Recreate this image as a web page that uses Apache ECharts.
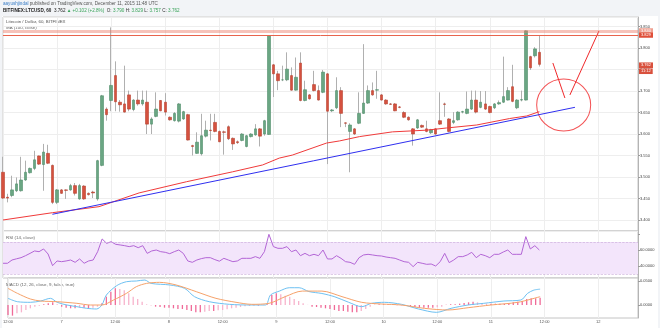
<!DOCTYPE html>
<html>
<head>
<meta charset="utf-8">
<script src="https://cdn.jsdelivr.net/npm/echarts@6/dist/echarts.min.js"></script>
<style>
html,body{margin:0;padding:0;background:#f2f4f7;}
#chart{width:660px;height:328px;}
</style>
</head>
<body>
<div id="chart"></div>
<script>
// LTC/USD hourly bars, Bitfinex. Hours are counted from Dec 6 00:00.
const firstHour = 12;          // first bar opens Dec 6, 12:00
const firstDay = 6;

const opens = [
3.511,3.453,3.457,3.468,3.468,3.493,3.510,3.520,3.549,3.529,
3.555,3.527,3.441,3.470,3.470,3.470,3.480,3.449,3.479,3.462,
3.465,3.449,3.527,3.658,3.678,3.736,3.674,3.670,3.691,3.657,
3.679,3.670,3.674,3.623,3.641,3.678,3.674,3.639,3.631,3.630,
3.635,3.645,3.573,3.555,3.554,3.595,3.609,3.627,3.606,3.605,
3.617,3.590,3.582,3.585,3.571,3.594,3.598,3.612,3.600,3.599,
3.761,3.740,3.726,3.726,3.736,3.702,3.765,3.678,3.691,3.715,
3.701,3.697,3.740,3.654,3.661,3.701,3.626,3.606,3.612,3.625,
3.648,3.672,3.701,3.702,3.691,3.679,3.670,3.670,3.663,3.650,
3.639,3.612,3.614,3.620,3.612,3.603,3.612,3.631,3.670,3.635,
3.627,3.633,3.651,3.648,3.658,3.679,3.662,3.670,3.664,3.661,
3.670,3.674,3.679,3.710,3.661,3.679,3.679,3.780,3.782,3.790];
const closes = [
3.451,3.451,3.470,3.484,3.493,3.511,3.520,3.540,3.530,3.558,
3.532,3.441,3.470,3.462,3.469,3.480,3.462,3.480,3.449,3.459,
3.463,3.538,3.689,3.645,3.713,3.675,3.668,3.651,3.658,3.679,
3.670,3.679,3.623,3.635,3.658,3.654,3.651,3.633,3.648,3.670,
3.652,3.586,3.571,3.581,3.596,3.609,3.608,3.606,3.582,3.604,
3.589,3.577,3.580,3.600,3.596,3.600,3.612,3.595,3.631,3.829,
3.740,3.724,3.726,3.751,3.702,3.732,3.678,3.703,3.682,3.701,
3.679,3.744,3.653,3.656,3.701,3.648,3.625,3.621,3.600,3.648,
3.672,3.701,3.691,3.703,3.679,3.670,3.669,3.654,3.662,3.639,
3.633,3.600,3.633,3.616,3.606,3.610,3.600,3.623,3.669,3.606,
3.631,3.651,3.652,3.658,3.679,3.651,3.674,3.658,3.650,3.670,
3.673,3.687,3.701,3.676,3.679,3.680,3.840,3.754,3.798,3.762];
const lows = [
3.449,3.441,3.453,3.465,3.466,3.491,3.508,3.516,3.528,3.468,
3.530,3.437,3.437,3.461,3.449,3.468,3.457,3.447,3.447,3.457,
3.451,3.445,3.525,3.631,3.653,3.653,3.652,3.650,3.653,3.653,
3.666,3.666,3.600,3.600,3.639,3.653,3.643,3.631,3.629,3.627,
3.633,3.585,3.550,3.554,3.550,3.592,3.585,3.604,3.581,3.552,
3.586,3.563,3.577,3.583,3.569,3.592,3.596,3.571,3.596,3.598,
3.686,3.702,3.723,3.723,3.701,3.701,3.676,3.676,3.680,3.699,
3.678,3.695,3.530,3.651,3.658,3.616,3.616,3.511,3.598,3.623,
3.647,3.670,3.689,3.682,3.678,3.668,3.668,3.653,3.660,3.637,
3.631,3.573,3.612,3.614,3.604,3.600,3.598,3.621,3.640,3.604,
3.623,3.631,3.648,3.646,3.656,3.648,3.660,3.656,3.648,3.658,
3.668,3.672,3.678,3.674,3.658,3.676,3.678,3.749,3.778,3.757];
const highs = [
3.547,3.461,3.503,3.499,3.547,3.538,3.522,3.561,3.550,3.577,
3.575,3.529,3.472,3.472,3.471,3.484,3.486,3.484,3.481,3.464,
3.468,3.540,3.691,3.662,3.848,3.769,3.679,3.759,3.701,3.681,
3.701,3.701,3.701,3.639,3.697,3.679,3.695,3.641,3.651,3.672,
3.654,3.647,3.575,3.604,3.647,3.631,3.647,3.647,3.608,3.608,
3.620,3.592,3.585,3.602,3.598,3.602,3.623,3.614,3.633,3.830,
3.763,3.747,3.759,3.790,3.755,3.778,3.790,3.724,3.693,3.747,
3.713,3.749,3.742,3.658,3.732,3.709,3.627,3.625,3.614,3.697,
3.809,3.713,3.720,3.747,3.693,3.681,3.672,3.672,3.665,3.653,
3.641,3.614,3.635,3.622,3.631,3.612,3.614,3.697,3.673,3.637,
3.651,3.653,3.654,3.699,3.701,3.701,3.700,3.700,3.666,3.672,
3.678,3.780,3.709,3.761,3.681,3.701,3.841,3.782,3.802,3.829];

// MA (100, close)
const maHours  = [12, 23, 33.3, 42.2, 52.7, 62.9, 69.6, 73.3, 76.2, 83.8, 86.7, 91.1, 98.4, 106, 110.4, 117.1, 124.4, 128.2, 131];
const maValues = [3.400, 3.417, 3.431, 3.463, 3.489, 3.512, 3.528, 3.544, 3.551, 3.579, 3.584, 3.594, 3.605, 3.609, 3.614, 3.621, 3.636, 3.642, 3.652];

// RSI (14, close), one value per bar
const rsiValues = [
43.4,43.4,47.5,49,50.4,52.9,55.8,58.8,57.9,61.3,
55,40.4,46.3,45.4,46.3,47.5,44.6,48.8,43.4,46.3,
47.5,57.9,73.8,68.3,70.4,67.1,66.3,65.4,64.2,65.4,
62.9,65.4,55.8,58.8,60,57.9,57.1,55.4,57.9,60,
55.8,46.3,44.6,47.5,49.2,50.4,50.4,48,46,49.6,
47.5,45.4,46.3,49.6,49.6,49.6,51.7,49.6,57.9,79.6,
64.2,62.1,62.1,64.2,57.9,60,52.9,55.8,52.9,54.6,
52.9,60,48.8,48.8,52.9,49.6,45.4,44.6,42.1,50.4,
53.8,54.6,53.8,52.9,52.5,51.2,50.4,49.6,47.5,45.4,
44.6,39.2,44.6,43.4,42.1,42.5,40,45.4,55.8,44.2,
47.5,51.7,51.7,53.8,57.1,50.4,54.6,52.9,50.4,54.6,
54.6,57.5,60,54.6,54.6,54.6,76.7,61.3,65.4,60];

// MACD (12, 26, close, 9)
const macdHours  = [12,14.1,17,19.3,21.5,23,25.2,27.4,29.6,31.8,33,34,36.3,38.5,40.7,42.6,44,48.2,51.5,53.7,57,61.5,66.5,69.6,70.7,72.7,74.9,77.1,79.3,82.2,85.1,88.2,91.1,93.3,96.2,100,103.8,107.8,111.1,114.9,118.4,122.9,126.7,128.2,129.6,131];
const macdValues = [0.0139,0.0069,0.0056,0.0083,0.0139,0.0056,0,-0.0035,-0.0069,-0.0083,0,0.0208,0.0403,0.0486,0.05,0.052,0.045,0.0417,0.0347,0.0174,0.0069,0.0014,0,0,0.0208,0.029,0.036,0.036,0.028,0.024,0.017,0.0056,-0.0035,0.0035,0.0056,0.0014,-0.0083,-0.0153,-0.0069,0,0.0035,0.0083,0.0104,0.0243,0.031,0.033];
const signalHours  = [12,14.1,17,19.3,23,27.4,30.4,33,35.6,38.5,40.7,43,45.9,49.6,54.1,58.5,63,66.5,70.4,74,77.8,82.2,86.7,91.1,95.6,100,105.1,110.4,114.9,120,126,131];
const signalValues = [0.0347,0.0243,0.0125,0.0083,0.0069,0.0035,0,0,0.0104,0.0243,0.0382,0.045,0.0472,0.0417,0.0278,0.0139,0.0056,0.0014,0.0035,0.0174,0.029,0.029,0.0174,0.0056,0.002,0,-0.0069,-0.0104,-0.0056,0,0.0056,0.0174];
const histValues = [
-0.0208,-0.0222,-0.0174,-0.0153,-0.0104,-0.0069,-0.0035,-0.0014,0.0014,0.0035,
0.0056,0.0014,-0.0035,-0.0056,-0.0069,-0.0069,-0.0056,-0.0056,-0.0069,-0.0056,
-0.0035,0.0035,0.0174,0.0278,0.0347,0.0333,0.0306,0.0243,0.0174,0.0125,
0.0069,0.0014,-0.0007,-0.0035,-0.0042,-0.0056,-0.0056,-0.0069,-0.0083,-0.0083,
-0.0104,-0.0125,-0.0153,-0.0153,-0.0139,-0.0125,-0.0125,-0.0111,-0.0104,-0.0090,
-0.0069,-0.0056,-0.0042,-0.0028,-0.0021,-0.0014,-0.0014,-0.0007,0.0014,0.0208,
0.0243,0.0222,0.0194,0.0174,0.0125,0.0083,0.0035,0.0003,-0.0035,-0.0042,
-0.0056,-0.0069,-0.0083,-0.0104,-0.0125,-0.0125,-0.0139,-0.0153,-0.0153,-0.0125,
-0.0083,-0.0035,0.0003,0.0014,0.0014,0.0014,0.0014,-0.0003,-0.0007,-0.0014,
-0.0035,-0.0049,-0.0056,-0.0056,-0.0056,-0.0056,-0.0049,-0.0035,0.0003,0.0014,
0.0014,0.0028,0.0042,0.0056,0.0069,0.0056,0.0042,0.0028,0.0028,0.0028,
0.0028,0.0028,0.0042,0.0056,0.0069,0.0083,0.0125,0.0139,0.0139,0.0153];

// Drawn levels and annotations (hour, price)
const levelTop = 3.840;
const levelHigh = 3.829;
const trendLine = [[22.96, 3.4133], [138.9, 3.6621]];
const targetCircle = [136.4, 3.6675];
const strokeLeft = [[134, 3.7652], [136.67, 3.6838]];
const strokeRight = [[137.78, 3.6908], [144.22, 3.8396]];
const countdown = '11:12';

const FONT = '"Liberation Sans", Arial, sans-serif';
const hours = opens.map((_, i) => firstHour + i);
const wickData = hours.map((h, i) => [h, opens[i], closes[i], lows[i], highs[i]]);
const bodyData = hours.map((h, i) => [h, opens[i], closes[i], Math.min(opens[i], closes[i]), Math.max(opens[i], closes[i])]);
const last = opens.length - 1;

const histData = histValues.map((v, i) => {
  const prev = i > 0 ? histValues[i - 1] : v;
  const strong = v >= 0 ? v >= prev : v <= prev;
  return { value: [hours[i], v], itemStyle: { color: strong ? '#f06a98' : '#f7b3cc' } };
});

const X_MIN = 12, X_MAX = 152.89;
function xAxis(idx, showLabels) {
  return {
    type: 'value', gridIndex: idx, min: X_MIN, max: X_MAX, interval: 12,
    axisLine: { show: false }, axisTick: { show: false },
    splitLine: { show: true, lineStyle: { color: '#eeeeee', width: 1 } },
    axisLabel: {
      show: showLabels, fontSize: 4, fontFamily: FONT, color: '#555', margin: 2,
      showMaxLabel: false,
      formatter: v => {
        if (Math.abs(v % 12) > 1e-6) return '';
        return v % 24 === 0 ? String(firstDay + v / 24) : '12:00';
      }
    }
  };
}
const rightAxisBase = {
  type: 'value', position: 'right', scale: true,
  axisLine: { show: true, lineStyle: { color: '#b4b4b4', width: 1 } },
  axisTick: { show: true, length: 2, lineStyle: { color: '#9a9a9a' } },
};

// price tag drawn at the right end of a horizontal level
function tag(text, bg) {
  return { show: true, position: 'end', distance: 1, formatter: text, fontSize: 4, fontFamily: FONT,
    color: '#fff', backgroundColor: bg, padding: [0.4, 2], lineHeight: 4.4 };
}

const chart = echarts.init(document.getElementById('chart'), null, { renderer: 'canvas' });
chart.setOption({
  animation: false,
  backgroundColor: '#f2f4f7',
  textStyle: { fontFamily: FONT },
  grid: [
    { left: 3, right: 22, top: 17, height: 214, show: true, borderColor: '#c4c4c4', borderWidth: 1, backgroundColor: '#fff' },
    { left: 3, right: 22, top: 231, height: 47, show: true, borderColor: '#c4c4c4', borderWidth: 1, backgroundColor: '#fff' },
    { left: 3, right: 22, top: 278, height: 40, show: true, borderColor: '#c4c4c4', borderWidth: 1, backgroundColor: '#fff' }
  ],
  xAxis: [xAxis(0, false), xAxis(1, false), xAxis(2, true)],
  yAxis: [
    Object.assign({}, rightAxisBase, {
      gridIndex: 0, min: 3.3744, max: 3.8722, splitNumber: 10,
      splitLine: { show: true, lineStyle: { color: '#eeeeee' } },
      axisLabel: { fontSize: 4, fontFamily: FONT, color: '#444', margin: 2, showMinLabel: false, showMaxLabel: false,
        formatter: v => v.toFixed(3) }
    }),
    Object.assign({}, rightAxisBase, {
      gridIndex: 1, min: 25, max: 83.75, splitNumber: 3,
      splitLine: { show: false },
      axisLabel: { fontSize: 4, fontFamily: FONT, color: '#444', margin: 2, showMinLabel: false, showMaxLabel: false,
        formatter: v => (v === 40 || v === 60) ? v.toFixed(4) : '' }
    }),
    Object.assign({}, rightAxisBase, {
      gridIndex: 2, min: -0.02708, max: 0.05625, splitNumber: 2,
      splitLine: { show: false },
      axisLabel: { fontSize: 4, fontFamily: FONT, color: '#444', margin: 2, showMinLabel: false, showMaxLabel: false,
        formatter: v => v.toFixed(4) }
    })
  ],
  graphic: [
    { type: 'rect', z: -10, shape: { x: 2, y: 16, width: 656, height: 312 }, style: { fill: '#ffffff' }, silent: true },
    { type: 'text', left: 3, top: 1.5, silent: true,
      style: { text: '{u|aayushjindal} published on TradingView.com, December 11, 2015 11:48 UTC',
        fontSize: 4.6, fontFamily: FONT, fill: '#555',
        rich: { u: { fill: '#3a7dc6', fontSize: 4.6, fontFamily: FONT } } } },
    { type: 'text', left: 3, top: 8.5, silent: true,
      style: { text: '{b|BITFINEX:LTCUSD, 60}  {d|' + closes[last].toFixed(3) + '} {g|\u25B2 +0.102 (+2.8%)}  O: {g|' + opens[last].toFixed(3) +
          '} H: {g|' + highs[last].toFixed(3) + '} L: {g|' + lows[last].toFixed(3) + '} C: {g|' + closes[last].toFixed(3) + '}',
        fontSize: 4.6, fontFamily: FONT, fill: '#333',
        rich: { b: { fontWeight: 'bold', fill: '#222', fontSize: 4.6, fontFamily: FONT },
                d: { fill: '#222', fontSize: 4.6, fontFamily: FONT },
                g: { fill: '#3aa35a', fontSize: 4.6, fontFamily: FONT } } } },
    { type: 'text', left: 6, top: 20, silent: true,
      style: { text: 'Litecoin / Dollar, 60, BITFINEX', fontSize: 4.4, fontFamily: FONT, fill: '#555' } },
    { type: 'text', left: 6, top: 26, silent: true,
      style: { text: 'MA (100, close)', fontSize: 4.4, fontFamily: FONT, fill: '#666' } },
    { type: 'text', left: 6, top: 235.5, silent: true,
      style: { text: 'RSI (14, close)', fontSize: 4.4, fontFamily: FONT, fill: '#666' } },
    { type: 'text', left: 6, top: 283, silent: true,
      style: { text: 'MACD (12, 26, close, 9, false, true)', fontSize: 4.4, fontFamily: FONT, fill: '#666' } }
  ],
  series: [
    { // wicks
      type: 'candlestick', xAxisIndex: 0, yAxisIndex: 0, silent: true, barWidth: 1,
      encode: { x: 0, y: [1, 2, 3, 4] },
      data: wickData,
      itemStyle: { color: '#b0b0b0', color0: '#b0b0b0', borderColor: '#b0b0b0', borderColor0: '#b0b0b0', borderWidth: 1 }
    },
    { // bodies
      type: 'candlestick', xAxisIndex: 0, yAxisIndex: 0, silent: true, barWidth: 3,
      encode: { x: 0, y: [1, 2, 3, 4] },
      data: bodyData,
      itemStyle: { color: '#6aa683', color0: '#d5513f', borderColor: '#4f8d69', borderColor0: '#b7412f', borderWidth: 0.6 },
      markLine: {
        silent: true, symbol: ['none', 'none'],
        data: [
          { yAxis: levelTop, lineStyle: { color: 'rgba(236,120,100,0.45)', width: 3, type: 'solid' },
            label: tag(levelTop.toFixed(3), '#efa091') },
          { yAxis: levelHigh, lineStyle: { color: '#e8634c', width: 1, type: 'solid' },
            label: tag(levelHigh.toFixed(3), '#df4f39') },
          { yAxis: closes[last], lineStyle: { color: 'rgba(0,0,0,0)', width: 0 },
            label: { show: true, position: 'end', distance: 1, fontFamily: FONT, padding: [6, 0, 0, 0],
              formatter: '{p|' + closes[last].toFixed(3) + '}\n{t|' + countdown + '}',
              rich: { p: { fontSize: 4, color: '#fff', backgroundColor: '#d9503d', padding: [0.8, 2], lineHeight: 6 },
                      t: { fontSize: 4, color: '#fff', backgroundColor: '#d9503d', padding: [0.8, 2], lineHeight: 6 } } } }
        ]
      }
    },
    { type: 'line', xAxisIndex: 0, yAxisIndex: 0, silent: true, symbol: 'none',
      data: maHours.map((h, i) => [h, maValues[i]]), lineStyle: { color: '#f03a3a', width: 1 } },
    { type: 'line', xAxisIndex: 0, yAxisIndex: 0, silent: true, symbol: 'none',
      data: trendLine, lineStyle: { color: '#2f2ff0', width: 1 } },
    { type: 'scatter', xAxisIndex: 0, yAxisIndex: 0, silent: true, symbol: 'circle', symbolSize: [54, 52],
      data: [targetCircle], itemStyle: { color: 'rgba(0,0,0,0)', borderColor: '#f0282a', borderWidth: 1 } },
    { type: 'line', xAxisIndex: 0, yAxisIndex: 0, silent: true, symbol: 'none',
      data: strokeLeft, lineStyle: { color: '#f0282a', width: 1 } },
    { type: 'line', xAxisIndex: 0, yAxisIndex: 0, silent: true, symbol: 'none',
      data: strokeRight, lineStyle: { color: '#f0282a', width: 1 } },
    { // RSI
      type: 'line', xAxisIndex: 1, yAxisIndex: 1, silent: true, symbol: 'none',
      data: rsiValues.map((v, i) => [hours[i], v]), lineStyle: { color: '#b365d6', width: 1 },
      markArea: { silent: true, itemStyle: { color: '#f3e5fb' }, data: [[{ yAxis: 30 }, { yAxis: 70 }]] },
      markLine: { silent: true, symbol: ['none', 'none'], label: { show: false },
        lineStyle: { color: '#c7a8d8', width: 0.6, type: 'dashed' }, data: [{ yAxis: 70 }, { yAxis: 30 }] }
    },
    { // MACD histogram
      type: 'bar', xAxisIndex: 2, yAxisIndex: 2, silent: true, barWidth: 1.3, data: histData
    },
    { type: 'line', xAxisIndex: 2, yAxisIndex: 2, silent: true, symbol: 'none', smooth: 0.3,
      data: macdHours.map((h, i) => [h, macdValues[i]]), lineStyle: { color: '#6ec1f2', width: 1 } },
    { type: 'line', xAxisIndex: 2, yAxisIndex: 2, silent: true, symbol: 'none', smooth: 0.3,
      data: signalHours.map((h, i) => [h, signalValues[i]]), lineStyle: { color: '#f6a26a', width: 1 } }
  ]
});
</script>
</body>
</html>
